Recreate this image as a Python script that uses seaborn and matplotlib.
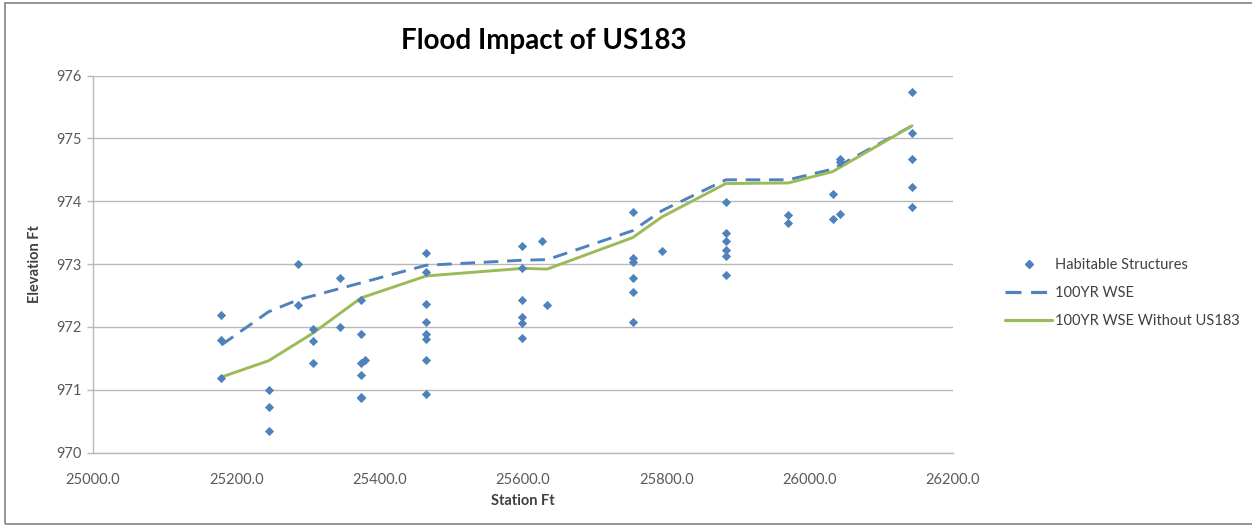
import matplotlib
matplotlib.use("Agg")
import matplotlib.pyplot as plt
from matplotlib.lines import Line2D
from matplotlib.patches import Rectangle
import seaborn as sns
import pandas as pd

# Habitable structures: station (ft) and finished-floor elevation (ft)
structure_station = [
    25179, 25179, 25179,
    25245, 25245, 25245,
    25286, 25286,
    25307, 25307, 25307,
    25345, 25345,
    25374, 25374, 25374, 25380, 25374, 25374, 25374,
    25465, 25465, 25465, 25465, 25465, 25465, 25465, 25465,
    25599, 25599, 25599, 25599, 25599, 25599,
    25627, 25633,
    25753, 25753, 25753, 25753, 25753, 25753,
    25794,
    25883, 25883, 25883, 25883, 25883, 25883,
    25970, 25970,
    26032, 26032, 26042, 26042, 26042,
    26143, 26143, 26143, 26143, 26143,
]
structure_elev = [
    972.19, 971.79, 971.19,
    970.99, 970.73, 970.35,
    973.00, 972.35,
    971.96, 971.77, 971.42,
    972.78, 971.99,
    972.42, 971.89, 971.43, 971.47, 971.24, 970.89, 970.86,
    973.18, 972.87, 972.36, 972.07, 971.89, 971.80, 971.48, 970.93,
    973.28, 972.94, 972.42, 972.15, 972.06, 971.82,
    973.37, 972.35,
    973.83, 973.10, 973.03, 972.78, 972.55, 972.08,
    973.21,
    973.99, 973.50, 973.37, 973.23, 973.12, 972.82,
    973.78, 973.66,
    974.11, 973.71, 973.80, 974.67, 974.62,
    975.73, 975.09, 974.67, 974.23, 973.90,
]

# 100-year water surface elevation, existing conditions
wse_station = [25179, 25245, 25286, 25374, 25465, 25599, 25634, 25753, 25794,
               25883, 25970, 26032, 26143]
wse_elev = [971.71, 972.24, 972.43, 972.70, 972.98, 973.06, 973.07, 973.53, 973.85,
            974.34, 974.34, 974.51, 975.20]

# 100-year water surface elevation with US183 removed
wse_no_hwy_station = [25179, 25245, 25307, 25374, 25465, 25599, 25634, 25753, 25794,
                      25883, 25970, 26032, 26143]
wse_no_hwy_elev = [971.20, 971.46, 971.90, 972.46, 972.81, 972.93, 972.92, 973.42, 973.75,
                   974.28, 974.29, 974.47, 975.20]

x_ticks = [25000, 25200, 25400, 25600, 25800, 26000, 26200]
y_ticks = [970, 971, 972, 973, 974, 975, 976]

BLUE = "#4F81BD"
GREEN = "#9BBB59"
GRID = "#B8B8B8"
TEXT = "#595959"

sns.set_theme(style="white")
plt.rcParams["font.family"] = ["Lato", "DejaVu Sans"]

fig = plt.figure(figsize=(12.52, 5.27), dpi=100)
ax = fig.add_axes([93 / 1252, 1 - 452.5 / 527, 860 / 1252, 377 / 527])

pts = pd.DataFrame({"station": structure_station, "elev": structure_elev})
sns.scatterplot(data=pts, x="station", y="elev", marker="D", s=22, color=BLUE,
                edgecolor=BLUE, linewidth=0, ax=ax, zorder=3, legend=False)
sns.lineplot(x=wse_station, y=wse_elev, sort=False, estimator=None, color=BLUE,
             linewidth=2.1, linestyle=(0, (5, 3)), ax=ax, zorder=2)
sns.lineplot(x=wse_no_hwy_station, y=wse_no_hwy_elev, sort=False, estimator=None,
             color=GREEN, linewidth=2.1, ax=ax, zorder=2)

ax.set_xlim(25000, 26200)
ax.set_ylim(970, 976)
ax.set_xticks(x_ticks)
ax.set_xticklabels([f"{v:.1f}" for v in x_ticks])
ax.set_yticks(y_ticks)
ax.set_yticklabels([str(v) for v in y_ticks])
ax.yaxis.grid(True, color=GRID, linewidth=1)
ax.xaxis.grid(False)
for side in ["top", "right"]:
    ax.spines[side].set_visible(False)
for side in ["left", "bottom"]:
    ax.spines[side].set_color(GRID)
    ax.spines[side].set_linewidth(1)
ax.tick_params(axis="y", which="both", left=True, length=4, width=1, color=GRID,
               labelsize=10.5, labelcolor=TEXT, pad=4)
ax.tick_params(axis="x", which="both", bottom=False, labelsize=10.5,
               labelcolor=TEXT, pad=9)
ax.set_xlabel("Station Ft", fontsize=10.5, fontweight="bold", color="#404040", labelpad=5)
ax.set_ylabel("Elevation Ft", fontsize=10.5, fontweight="bold", color="#404040", labelpad=10)

fig.text(544 / 1252, 1 - 41 / 527, "Flood Impact of US183", ha="center", va="center",
         fontsize=20, fontweight="bold", color="black")

handles = [
    Line2D([], [], marker="D", linestyle="none", color=BLUE, markersize=3.6),
    Line2D([], [], color=BLUE, linewidth=2.3, linestyle=(0, (5, 3))),
    Line2D([], [], color=GREEN, linewidth=2.3),
]
labels = ["Habitable Structures", "100YR WSE", "100YR WSE Without US183"]
fig.legend(handles, labels, loc="center left", bbox_to_anchor=(998 / 1252, 1 - 293 / 527),
           frameon=False, fontsize=10.5, labelcolor="#404040", handlelength=3.2,
           handletextpad=0.2, labelspacing=0.95, borderpad=0)

# chart frame
fig.patches.append(Rectangle((5 / 1252, 3 / 527), 1.2, 1 - 6 / 527, transform=fig.transFigure,
                             fill=False, edgecolor="#8C8C8C", linewidth=1.3))

fig.savefig("out.png", dpi=100)
